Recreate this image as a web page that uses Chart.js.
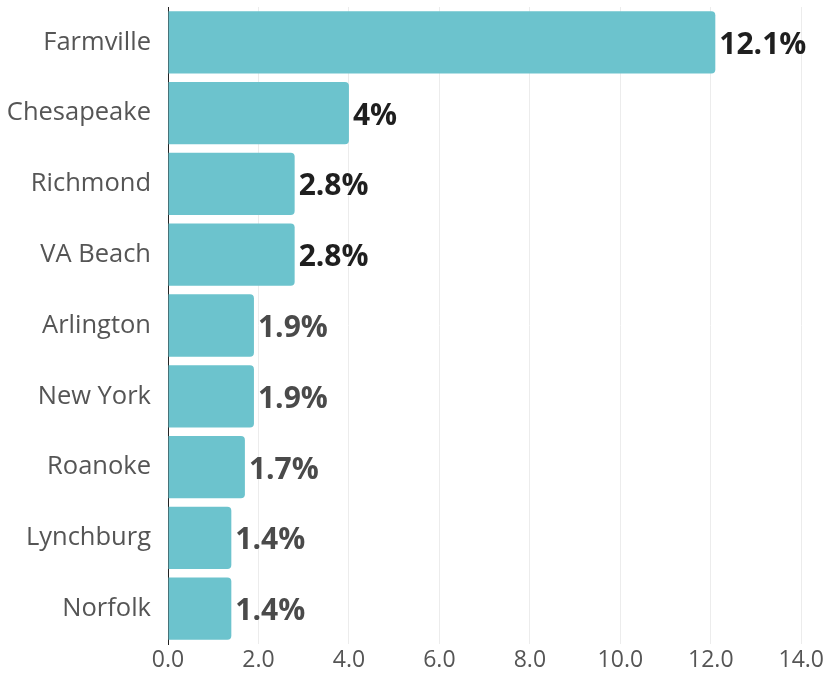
<!DOCTYPE html>
<html>
<head>
<meta charset="utf-8">
<script src="https://cdn.jsdelivr.net/npm/chart.js@4"></script>
<style>
  html, body { margin: 0; padding: 0; background: #fff; }
  #wrap { width: 827px; height: 677px; }
</style>
</head>
<body>
<div id="wrap"><canvas id="myChart"></canvas></div>
<script>
// setup
const cities = ['Farmville', 'Chesapeake', 'Richmond', 'VA Beach', 'Arlington', 'New York', 'Roanoke', 'Lynchburg', 'Norfolk'];
const shares = [12.1, 4, 2.8, 2.8, 1.9, 1.9, 1.7, 1.4, 1.4];
const shareLabels = ['12.1%', '4%', '2.8%', '2.8%', '1.9%', '1.9%', '1.7%', '1.4%', '1.4%'];
const labelColors = ['#1f1f1f', '#1f1f1f', '#1f1f1f', '#1f1f1f', '#4a4a4a', '#4a4a4a', '#4a4a4a', '#4a4a4a', '#4a4a4a'];

// draws the % text after each bar
const valueLabels = {
  id: 'valueLabels',
  afterDatasetsDraw(chart) {
    const ctx = chart.ctx;
    const meta = chart.getDatasetMeta(0);
    ctx.save();
    ctx.font = 'bold 30px "Open Sans"';
    ctx.textAlign = 'left';
    ctx.textBaseline = 'middle';
    meta.data.forEach((bar, i) => {
      ctx.fillStyle = labelColors[i];
      ctx.fillText(shareLabels[i], bar.x + 4, bar.y + 3);
    });
    ctx.restore();
  }
};

const data = {
  labels: cities,
  datasets: [{
    data: shares,
    backgroundColor: '#6cc3cd',
    borderRadius: 4,
    borderSkipped: 'start',
    categoryPercentage: 1,
    barPercentage: 0.88
  }]
};

const config = {
  type: 'bar',
  data,
  plugins: [valueLabels],
  options: {
    indexAxis: 'y',
    responsive: true,
    maintainAspectRatio: false,
    animation: false,
    layout: { padding: { top: 7, right: 24, bottom: 0, left: 0 } },
    plugins: {
      legend: { display: false },
      tooltip: { enabled: false }
    },
    scales: {
      x: {
        min: 0,
        max: 14,
        ticks: {
          stepSize: 2,
          color: '#555',
          font: { family: '"Open Sans"', size: 23 },
          padding: 3,
          callback: v => v.toFixed(1)
        },
        grid: { color: '#ececec', drawTicks: false },
        border: { display: false },
        afterFit(scale) { scale.height = 33; }
      },
      y: {
        ticks: {
          color: '#555',
          font: { family: '"Open Sans"', size: 25.5 },
          padding: 17
        },
        grid: { display: false, drawTicks: false },
        border: { display: true, color: '#222', width: 1 },
        afterFit(scale) {
          scale.width = 168;
          scale.paddingTop = 0;
          scale.paddingBottom = 0;
        }
      }
    }
  }
};

const myChart = new Chart(document.getElementById('myChart'), config);
</script>
</body>
</html>
